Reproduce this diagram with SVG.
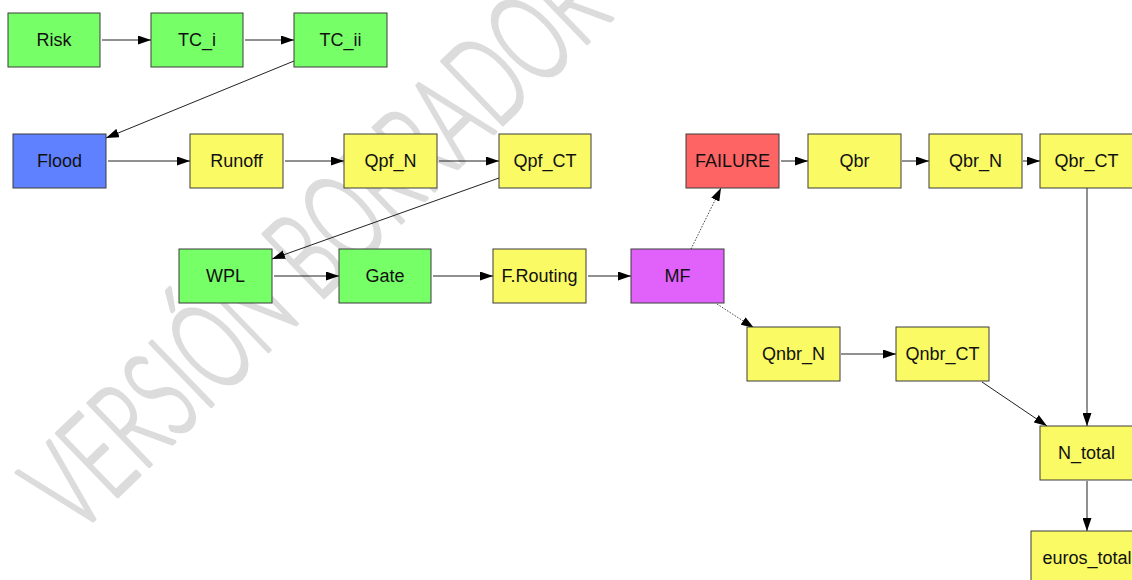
<svg xmlns="http://www.w3.org/2000/svg" width="1132" height="580" viewBox="0 0 1132 580">
<style>
.n rect{stroke:#3c3c3c;stroke-width:1}
.n text{font-family:"Liberation Sans",Arial,sans-serif;font-size:18px;fill:#111;text-anchor:middle}
.g rect{fill:#77FF68}
.b rect{fill:#5F80FF}
.y rect{fill:#FAFA64}
.r rect{fill:#FF6464}
.m rect{fill:#E062FA}
.e{fill:none;stroke:#222;stroke-width:1;marker-end:url(#ah)}
.d{stroke-dasharray:1.5 1.5;stroke:#444}
.wm{font-family:"Lato","Inter","Roboto","Open Sans",sans-serif;font-weight:300;font-size:124px;fill:#dcdcdc;stroke:#dcdcdc;stroke-width:3.5;stroke-linejoin:round}
</style>
<defs>
<marker id="ah" markerUnits="userSpaceOnUse" markerWidth="13" markerHeight="9" refX="13" refY="4.5" orient="auto" viewBox="0 0 13 9">
<path d="M0,0 L13,4.5 L0,9 Z" fill="#000"/>
</marker>
</defs>
<rect width="1132" height="580" fill="#fff"/>
<text class="wm" transform="translate(76,537) rotate(-44)" textLength="748" lengthAdjust="spacingAndGlyphs">VERSIÓN BORRADOR</text>
<g id="connectors">
<line class="e" x1="102" y1="40" x2="151" y2="40"/>
<line class="e" x1="245" y1="40" x2="294" y2="40"/>
<line class="e" x1="294" y1="61" x2="106" y2="138"/>
<line class="e" x1="108" y1="161" x2="190" y2="161"/>
<line class="e" x1="285" y1="161" x2="344" y2="161"/>
<line class="e" x1="439" y1="161" x2="499" y2="161"/>
<line class="e" x1="499" y1="178" x2="272" y2="259"/>
<line class="e" x1="274" y1="276" x2="339" y2="276"/>
<line class="e" x1="433" y1="276" x2="493" y2="276"/>
<line class="e" x1="588" y1="276" x2="631" y2="276"/>
<line class="e d" x1="691" y1="249" x2="721" y2="188"/>
<line class="e" x1="781" y1="161" x2="808" y2="161"/>
<line class="e" x1="902" y1="161" x2="929" y2="161"/>
<line class="e" x1="1023" y1="161" x2="1040" y2="161"/>
<line class="e d" x1="717" y1="304" x2="754" y2="328"/>
<line class="e" x1="841" y1="354" x2="896" y2="354"/>
<line class="e" x1="982" y1="382" x2="1047" y2="426"/>
<line class="e" x1="1087" y1="188" x2="1087" y2="426"/>
<line class="e" x1="1087" y1="481" x2="1087" y2="531"/>
</g>
<g id="Risk" class="n g"><rect x="8" y="13" width="92" height="54"/><text x="54" y="46">Risk</text></g>
<g id="TC_i" class="n g"><rect x="151" y="13" width="92" height="54"/><text x="197" y="46">TC_i</text></g>
<g id="TC_ii" class="n g"><rect x="294" y="13" width="93" height="54"/><text x="340.5" y="46">TC_ii</text></g>
<g id="Flood" class="n b"><rect x="13" y="134" width="93" height="54"/><text x="59.5" y="167">Flood</text></g>
<g id="Runoff" class="n y"><rect x="190" y="134" width="93" height="54"/><text x="236.5" y="167">Runoff</text></g>
<g id="Qpf_N" class="n y"><rect x="344" y="134" width="93" height="54"/><text x="390.5" y="167">Qpf_N</text></g>
<g id="Qpf_CT" class="n y"><rect x="499" y="134" width="92" height="54"/><text x="545" y="167">Qpf_CT</text></g>
<g id="FAILURE" class="n r"><rect x="686" y="134" width="93" height="54"/><text x="732.5" y="167">FAILURE</text></g>
<g id="Qbr" class="n y"><rect x="808" y="134" width="93" height="54"/><text x="854.5" y="167">Qbr</text></g>
<g id="Qbr_N" class="n y"><rect x="929" y="134" width="93" height="54"/><text x="975.5" y="167">Qbr_N</text></g>
<g id="Qbr_CT" class="n y"><rect x="1040" y="134" width="93" height="54"/><text x="1086.5" y="167">Qbr_CT</text></g>
<g id="WPL" class="n g"><rect x="179" y="249" width="93" height="54"/><text x="225.5" y="282">WPL</text></g>
<g id="Gate" class="n g"><rect x="339" y="249" width="92" height="54"/><text x="385" y="282">Gate</text></g>
<g id="F.Routing" class="n y"><rect x="493" y="249" width="93" height="54"/><text x="539.5" y="282">F.Routing</text></g>
<g id="MF" class="n m"><rect x="631" y="249" width="93" height="54"/><text x="677.5" y="282">MF</text></g>
<g id="Qnbr_N" class="n y"><rect x="747" y="327" width="93" height="54"/><text x="793.5" y="360">Qnbr_N</text></g>
<g id="Qnbr_CT" class="n y"><rect x="896" y="327" width="93" height="54"/><text x="942.5" y="360">Qnbr_CT</text></g>
<g id="N_total" class="n y"><rect x="1040" y="426" width="93" height="54"/><text x="1086.5" y="459">N_total</text></g>
<g id="euros_total" class="n y"><rect x="1031" y="531" width="112" height="54"/><text x="1087" y="564">euros_total</text></g>
</svg>
